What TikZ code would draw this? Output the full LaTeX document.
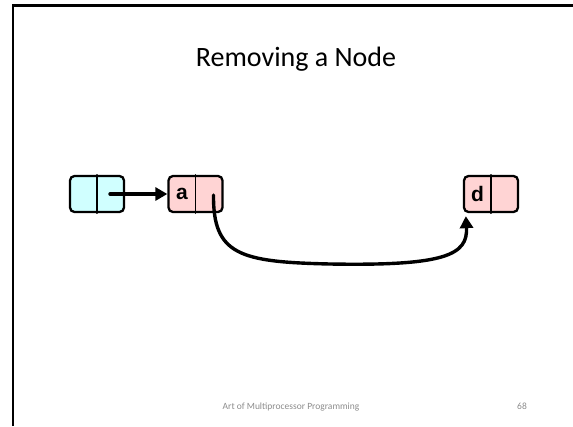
\documentclass[tikz,border=0pt]{standalone}
\usepackage{fontspec}
\setmainfont{Carlito}
\newfontfamily\nodefont{Liberation Sans}
\usetikzlibrary{arrows.meta}
\usepackage{xcolor}
\definecolor{cellcyan}{RGB}{208,255,255}
\definecolor{cellpink}{RGB}{255,212,212}
\definecolor{footgray}{RGB}{140,140,140}

\tikzset{
  listnode/.style={draw,line width=2.3pt,rounded corners=4.5pt,minimum width=54pt,
    minimum height=36pt,inner sep=0pt},
  cellkey/.style={inner sep=0pt,font=\nodefont\bfseries\fontsize{21}{21}\selectfont},
  pointer/.style={line width=3.4pt,-{Triangle[length=12pt,width=13pt]}}
}

\begin{document}
\begin{tikzpicture}[x=1pt,y=-1pt,line cap=round]
\useasboundingbox (0,0) rectangle (573,426);
\draw[line width=2.5pt,line cap=butt] (13,426) -- (13,5.5) -- (573,5.5);
\node[anchor=base,font=\fontsize{28}{28}\selectfont] (title) at (296,66) {Removing a Node};
\node[listnode,fill=cellcyan] (prev) at (97,194) {};
\draw[line width=1.6pt] (prev.north) -- (prev.south);
\node[listnode,fill=cellpink] (a) at (195.5,194) {};
\draw[line width=1.6pt] (a.north) -- (a.south);
\node[cellkey] (akey) at ([xshift=-13.5pt]a.center) {a};
\node[listnode,fill=cellpink] (d) at (491,194) {};
\draw[line width=1.6pt] (d.north) -- (d.south);
\node[cellkey] (dkey) at ([xshift=-13.5pt]d.center) {d};
\coordinate (prevnext) at ([xshift=13pt]prev.center);
\coordinate (anext) at ([xshift=18pt,yshift=-1pt]a.center);
\coordinate (dtarget) at ([xshift=3pt,yshift=-3pt]d.south west);
\draw[pointer] (prevnext) -- (a.west);
\draw[pointer] (anext) .. controls (213,255) and (240,262) .. (330,264)
  .. controls (445,266) and (468,255) .. (dtarget);
\node[font=\fontsize{9.5}{9.5}\selectfont,text=footgray,anchor=base] (foot) at (291,409) {Art of Multiprocessor Programming};
\node[font=\fontsize{9.5}{9.5}\selectfont,text=footgray,anchor=base] (page) at (522,409) {68};
\end{tikzpicture}
\end{document}
